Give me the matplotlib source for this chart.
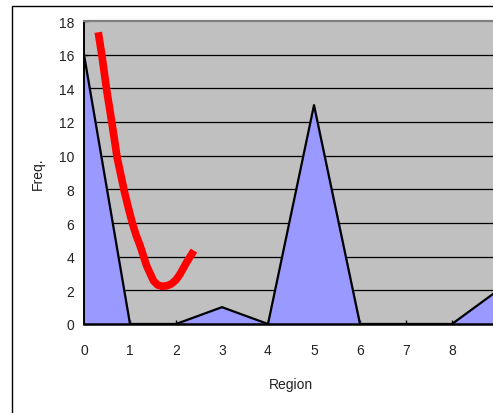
import matplotlib
matplotlib.use('Agg')
from matplotlib import pyplot as plt
from matplotlib.patches import Rectangle
import numpy as np

plt.rcParams['font.family'] = ['Liberation Sans', 'DejaVu Sans']

# area series (Region vs Freq.)
regions = [0, 1, 2, 3, 4, 5, 6, 7, 8, 9]
freq = [16, 0, 0, 1, 0, 13, 0, 0, 0, 2]

# red curve, points
curve_x = [0.31, 0.39, 0.49, 0.61, 0.72, 0.87, 0.96, 1.05, 1.13, 1.22, 1.36,
           1.51, 1.60, 1.69, 1.80, 1.90, 2.00, 2.09, 2.23, 2.39]
curve_y = [17.33, 15.94, 13.96, 11.88, 9.90, 7.96, 6.95, 6.0, 5.3, 4.65, 3.47,
           2.57, 2.32, 2.24, 2.27, 2.38, 2.62, 2.97, 3.66, 4.36]

yticks = list(range(0, 19, 2))

fig = plt.figure(figsize=(4.93, 4.14), dpi=100)
fig.patch.set_facecolor('white')

# outer chart border (cut off on the right and bottom)
fig.add_artist(Rectangle((12 / 493, -0.1), 1.0, 0.1 + (414 - 7) / 414,
                         transform=fig.transFigure, fill=False,
                         edgecolor='black', linewidth=1.0))

ax = fig.add_axes([84 / 493, 89 / 414, 414 / 493, 303 / 414])
ax.set_facecolor('#C0C0C0')

for yv in yticks[1:-1]:
    ax.axhline(yv, color='black', linewidth=0.9, zorder=1)

ax.fill_between(regions, freq, 0, color='#9999FF', zorder=2)
ax.plot(regions, freq, color='black', linewidth=1.6, zorder=3)
ax.plot(curve_x, curve_y, color='#FF0000', linewidth=5.5,
        solid_capstyle='butt', solid_joinstyle='round', zorder=4)

ax.set_xlim(0, 9)
ax.set_ylim(0, 18)
ax.set_xticks(regions)
ax.set_yticks(yticks)

ax.spines['right'].set_visible(False)
ax.spines['top'].set_color('#808080')
ax.spines['top'].set_linewidth(1.6)
ax.spines['left'].set_linewidth(1.4)
ax.spines['bottom'].set_linewidth(1.8)

ax.tick_params(axis='both', direction='in', length=3, width=1,
               labelsize=10, labelcolor='#222222')
ax.tick_params(axis='x', pad=14)
ax.tick_params(axis='y', pad=7)

ax.set_xlabel('Region', fontsize=10, color='#222222', labelpad=14)
ax.set_ylabel('Freq.', fontsize=10, color='#222222', labelpad=10)

fig.savefig('out.png', dpi=100)
